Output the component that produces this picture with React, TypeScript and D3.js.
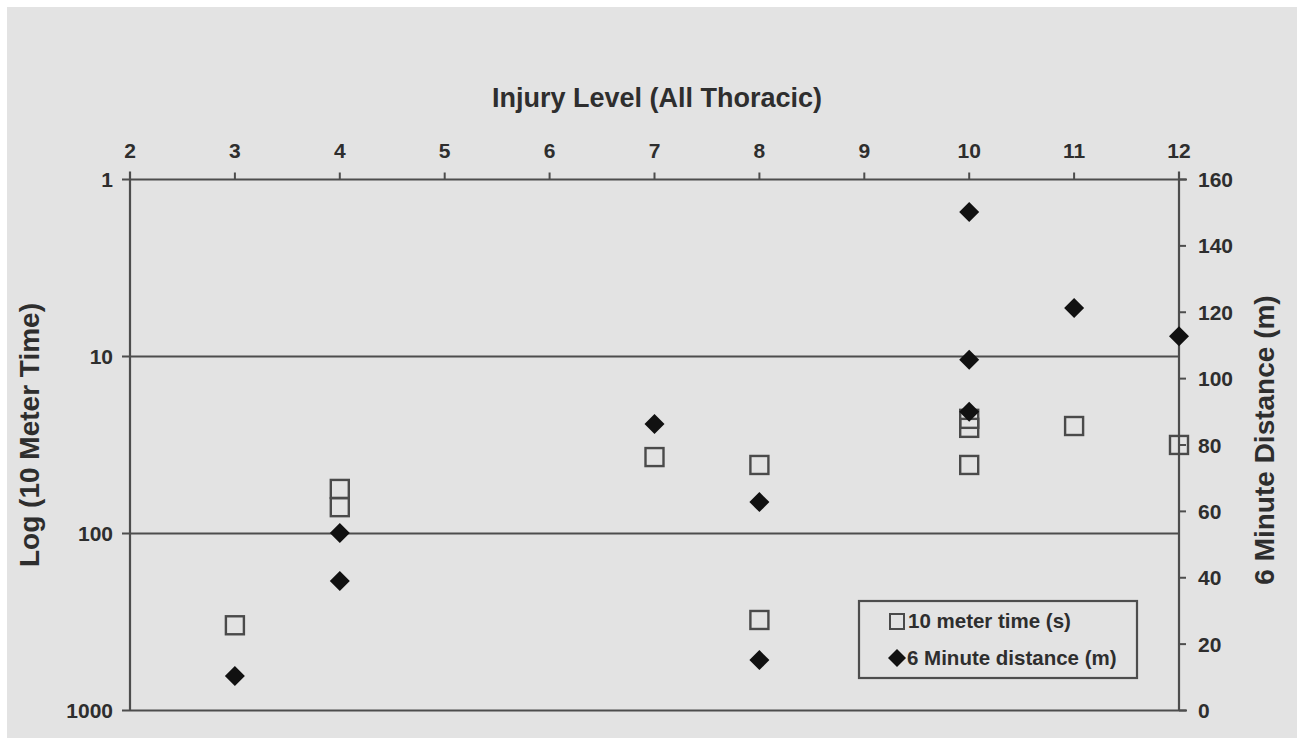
import React from "react";
import * as d3 from "d3";

const xTicks = [2, 3, 4, 5, 6, 7, 8, 9, 10, 11, 12];
const leftTicks = [1, 10, 100, 1000];
const rightTicks = [0, 20, 40, 60, 80, 100, 120, 140, 160];

const timeLevels = [3, 4, 4, 7, 8, 8, 10, 10, 10, 11, 12];
const timeValues = [330, 56, 71, 37, 41, 308, 22.5, 25.3, 41, 24.7, 31.6];

const distLevels = [3, 4, 4, 7, 8, 8, 10, 10, 10, 11, 12];
const distValues = [10.4, 53.5, 39, 86.3, 62.8, 15.2, 150.2, 105.7, 90, 121.3, 112.8];

const W = 1297;
const H = 738;
const L = 130;
const R = 1179;
const T = 179.5;
const B = 710.5;

const FONT = "'Liberation Sans', Arial, sans-serif";
const TXT = "#2e2e2e";
const LINE = "#4d4d4d";

export default function App() {
  const x = d3.scaleLinear().domain([2, 12]).range([L, R]);
  const yL = d3.scaleLog().domain([1, 1000]).range([T, B]);
  const yR = d3.scaleLinear().domain([0, 160]).range([B, T]);
  const diamond = (cx: number, cy: number, r: number) =>
    `M${cx},${cy - r}L${cx + r},${cy}L${cx},${cy + r}L${cx - r},${cy}Z`;
  const sq = 18;

  return (
    <svg
      width={W}
      height={H}
      style={{ position: "absolute", left: 0, top: 0 }}
      fontFamily={FONT}
    >
      <rect x={0} y={0} width={W} height={H} fill="#ffffff" />
      <rect x={7} y={7} width={W - 7} height={H - 7} fill="#e3e3e3" />

      {/* title */}
      <text
        x={657}
        y={107}
        textAnchor="middle"
        fontSize={27}
        fontWeight="bold"
        fill={TXT}
      >
        Injury Level (All Thoracic)
      </text>

      {/* horizontal lines at left ticks */}
      {leftTicks.map((t) => (
        <line
          key={"h" + t}
          x1={L - 8}
          x2={t === 1 || t === 1000 ? R + 8 : R}
          y1={yL(t)}
          y2={yL(t)}
          stroke={LINE}
          strokeWidth={2.2}
        />
      ))}
      {leftTicks.map((t) => (
        <text
          key={"lt" + t}
          x={113}
          y={yL(t)}
          dy="0.36em"
          textAnchor="end"
          fontSize={21}
          fontWeight="bold"
          fill={TXT}
        >
          {t}
        </text>
      ))}

      {/* left and right axes */}
      <line x1={L} x2={L} y1={T - 8} y2={B} stroke={LINE} strokeWidth={2.2} />
      <line x1={R} x2={R} y1={T - 8} y2={B} stroke={LINE} strokeWidth={2.2} />

      {/* top ticks */}
      {xTicks.map((t) => (
        <g key={"x" + t}>
          <line
            x1={x(t)}
            x2={x(t)}
            y1={T - 7}
            y2={T}
            stroke={LINE}
            strokeWidth={2}
          />
          <text
            x={x(t)}
            y={158}
            textAnchor="middle"
            fontSize={21}
            fontWeight="bold"
            fill={TXT}
          >
            {t}
          </text>
        </g>
      ))}

      {/* right ticks */}
      {rightTicks.map((t) => (
        <g key={"r" + t}>
          <line
            x1={R}
            x2={R + 7}
            y1={yR(t)}
            y2={yR(t)}
            stroke={LINE}
            strokeWidth={2}
          />
          <text
            x={1198}
            y={yR(t)}
            dy="0.36em"
            fontSize={21}
            fontWeight="bold"
            fill={TXT}
          >
            {t}
          </text>
        </g>
      ))}

      {/* axis titles */}
      <text
        transform={`translate(39,${435}) rotate(-90)`}
        textAnchor="middle"
        fontSize={28}
        fontWeight="bold"
        fill={TXT}
      >
        Log (10 Meter Time)
      </text>
      <text
        transform={`translate(1274,${440}) rotate(-90)`}
        textAnchor="middle"
        fontSize={28}
        fontWeight="bold"
        fill={TXT}
      >
        6 Minute Distance (m)
      </text>

      {/* time squares */}
      {timeValues.map((v, i) => (
        <rect
          key={"s" + i}
          x={x(timeLevels[i]) - sq / 2}
          y={yL(v) - sq / 2}
          width={sq}
          height={sq}
          fill="none"
          stroke="#4a4a4a"
          strokeWidth={2.4}
        />
      ))}

      {/* distance diamonds */}
      {distValues.map((v, i) => (
        <path
          key={"d" + i}
          d={diamond(x(distLevels[i]), yR(v), 10)}
          fill="#111111"
        />
      ))}

      {/* legend */}
      <rect
        x={859}
        y={601}
        width={278}
        height={77}
        fill="#e3e3e3"
        stroke={LINE}
        strokeWidth={2.2}
      />
      <rect
        x={890}
        y={614}
        width={14}
        height={15}
        fill="none"
        stroke="#4a4a4a"
        strokeWidth={2}
      />
      <text x={908} y={628} fontSize={20.5} fontWeight="bold" fill={TXT}>
        10 meter time (s)
      </text>
      <path d={diamond(897, 658, 9)} fill="#111111" />
      <text x={907} y={665} fontSize={20.5} fontWeight="bold" fill={TXT}>
        6 Minute distance (m)
      </text>
    </svg>
  );
}
